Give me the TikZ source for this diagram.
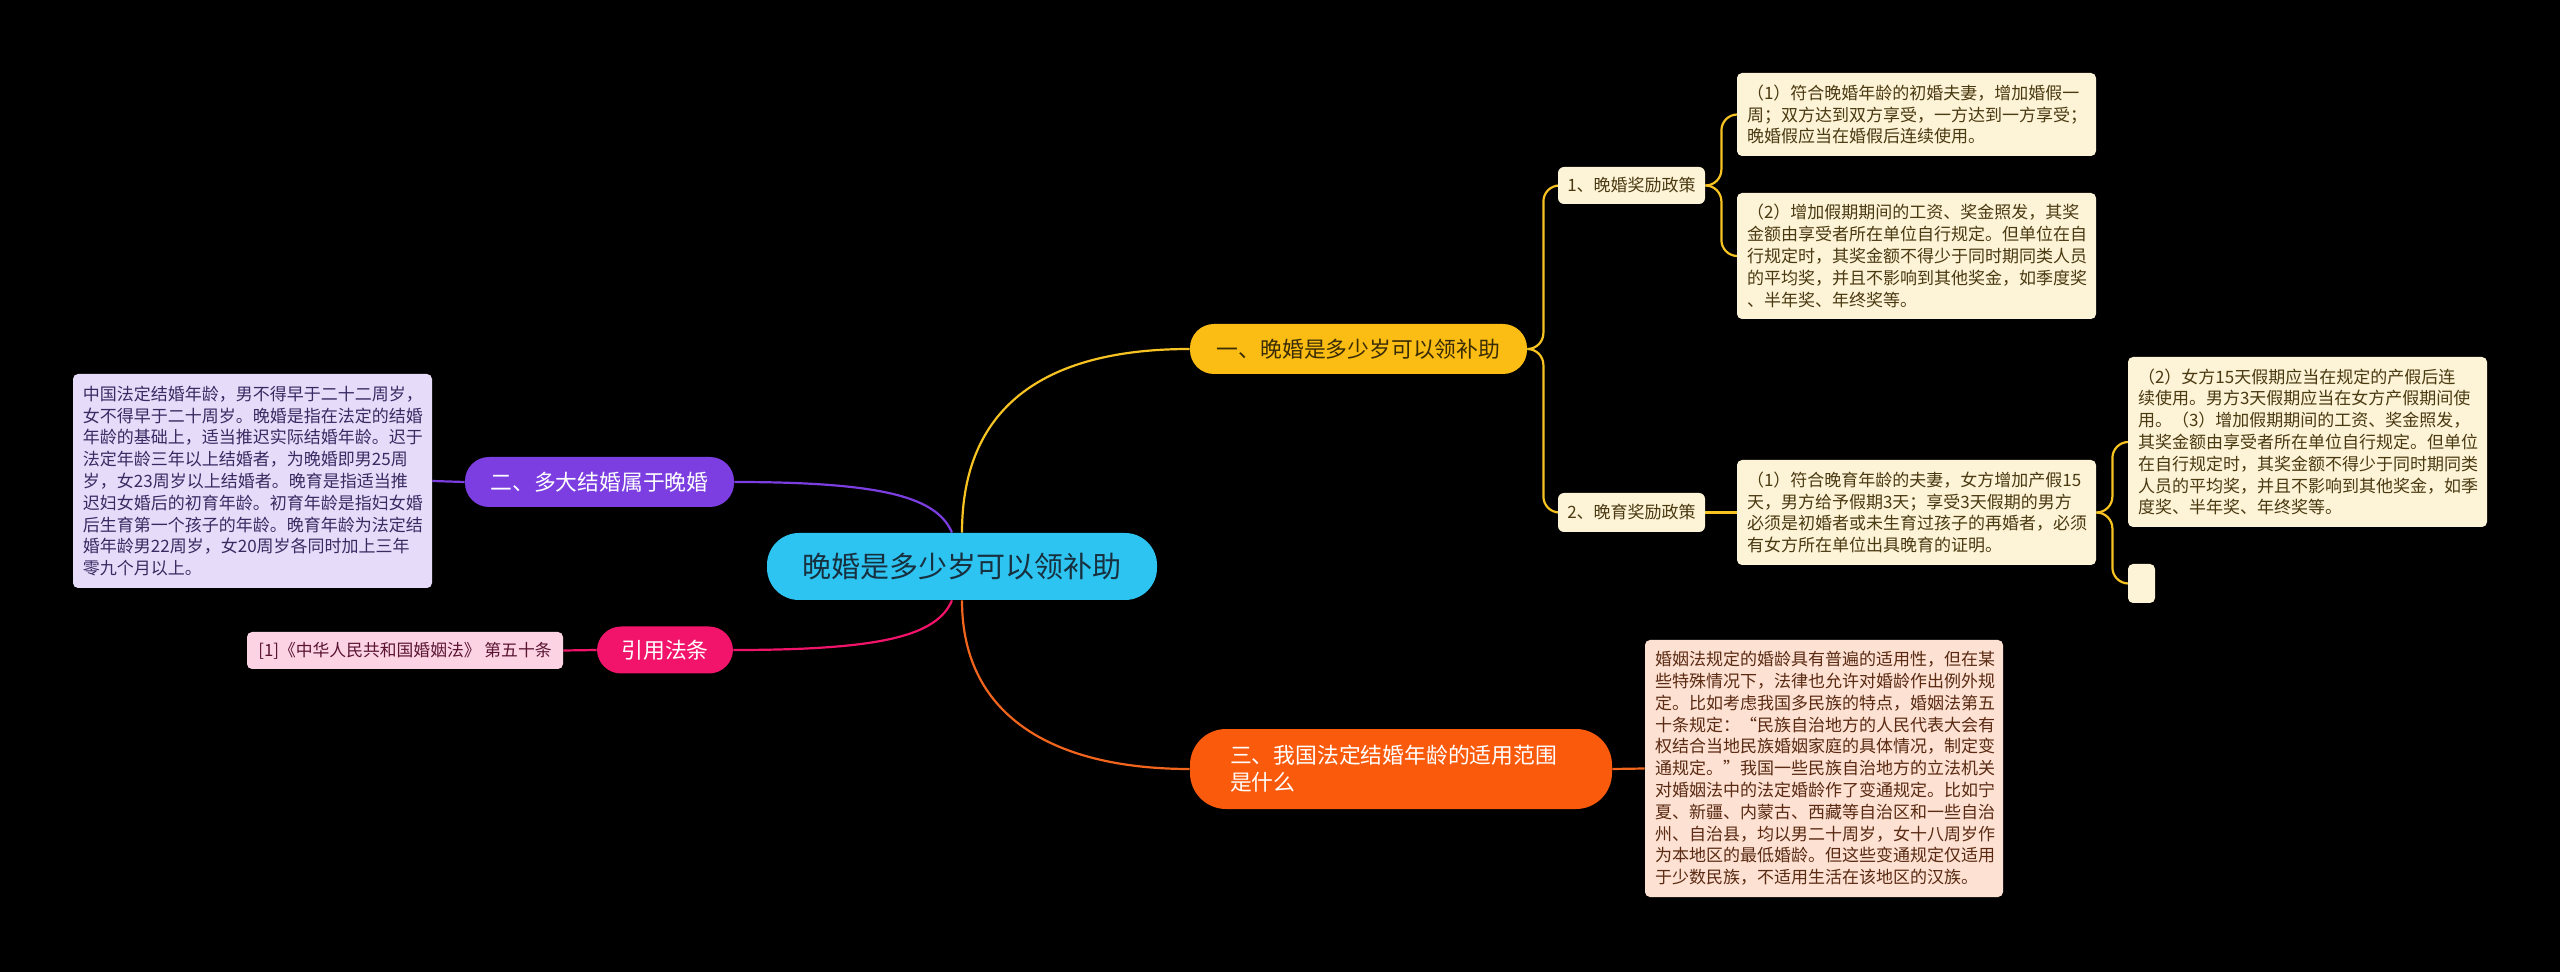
\documentclass[tikz,border=0pt]{standalone}
\usepackage{fontspec}
\setmainfont{Noto Sans CJK SC}
\pgfdeclarelayer{bg}
\pgfsetlayers{bg,main}
\definecolor{cRoot}{HTML}{2EC4F1}
\definecolor{cRootT}{HTML}{17303F}
\definecolor{cY}{HTML}{FBBD13}
\definecolor{cYT}{HTML}{3A2C05}
\definecolor{cYL}{HTML}{FDF3D6}
\definecolor{cYLT}{HTML}{4A3A12}
\definecolor{cYLine}{HTML}{F6C322}
\definecolor{cP}{HTML}{7C3EE0}
\definecolor{cPL}{HTML}{E6DCFA}
\definecolor{cPLT}{HTML}{3A2A62}
\definecolor{cK}{HTML}{F2136B}
\definecolor{cKL}{HTML}{FCD3E2}
\definecolor{cKLT}{HTML}{5A1432}
\definecolor{cO}{HTML}{FA5A0C}
\definecolor{cOL}{HTML}{FDE1D3}
\definecolor{cOLT}{HTML}{5A2A12}
\definecolor{cOLine}{HTML}{F2651C}
\tikzset{
  rootbox/.style={fill=cRoot, text=cRootT, rounded corners=16pt, inner sep=0pt,
    font=\fontsize{14.5pt}{17pt}\selectfont},
  mainbox/.style={rounded corners=12pt, inner sep=0pt,
    font=\fontsize{10.9pt}{13.5pt}\selectfont},
  subbox/.style={fill=cYL, text=cYLT, rounded corners=3pt, inner sep=0pt,
    font=\fontsize{8.5pt}{10.5pt}\selectfont},
  leafbox/.style={rounded corners=2.5pt, inner sep=0pt, align=left,
    font=\fontsize{8.5pt}{10.9pt}\selectfont},
  conn/.style={line width=1.1pt},
}
\begin{document}
\begin{tikzpicture}[x=0.5pt,y=-0.5pt]
\useasboundingbox (0,0) rectangle (2560,972);
\begin{pgfonlayer}{bg}
\fill[black] (0,0) rectangle (2560,972);
\end{pgfonlayer}

% root
\node[rootbox, minimum width=195pt, minimum height=33.5pt] (root) at (962,566.5) {晚婚是多少岁可以领补助};

% branch 1
\node[mainbox, fill=cY, text=cYT, minimum width=168.5pt, minimum height=25pt] (b1) at (1358.5,349) {一、晚婚是多少岁可以领补助};
\node[subbox, minimum width=73.5pt, minimum height=18.5pt] (s1) at (1631.5,185.5) {1、晚婚奖励政策};
\node[subbox, minimum width=73.5pt, minimum height=19.5pt] (s2) at (1631.5,512.5) {2、晚育奖励政策};
\node[leafbox, fill=cYL, text=cYLT, text width=169.5pt, minimum width=179.5pt, minimum height=41.5pt] (l1) at (1916.5,114.5)
 {（1）符合晚婚年龄的初婚夫妻，增加婚假一\\周；双方达到双方享受，一方达到一方享受；\\晚婚假应当在婚假后连续使用。};
\node[leafbox, fill=cYL, text=cYLT, text width=169.5pt, minimum width=179.5pt, minimum height=63pt] (l2) at (1916.5,256)
 {（2）增加假期期间的工资、奖金照发，其奖\\金额由享受者所在单位自行规定。但单位在自\\行规定时，其奖金额不得少于同时期同类人员\\的平均奖，并且不影响到其他奖金，如季度奖\\、半年奖、年终奖等。};
\node[leafbox, fill=cYL, text=cYLT, text width=169.5pt, minimum width=179.5pt, minimum height=52.5pt] (l3) at (1916.5,512.5)
 {（1）符合晚育年龄的夫妻，女方增加产假15\\天，男方给予假期3天；享受3天假期的男方\\必须是初婚者或未生育过孩子的再婚者，必须\\有女方所在单位出具晚育的证明。};
\node[leafbox, fill=cYL, text=cYLT, text width=169.5pt, minimum width=179.5pt, minimum height=85pt] (l4) at (2307.5,442)
 {（2）女方15天假期应当在规定的产假后连\\续使用。男方3天假期应当在女方产假期间使\\用。（3）增加假期期间的工资、奖金照发，\\其奖金额由享受者所在单位自行规定。但单位\\在自行规定时，其奖金额不得少于同时期同类\\人员的平均奖，并且不影响到其他奖金，如季\\度奖、半年奖、年终奖等。};
\node[leafbox, fill=cYL, minimum width=13.5pt, minimum height=19.5pt] (l5) at (2141.5,583.5) {};

% branch 2
\node[mainbox, fill=cP, text=white, minimum width=134.5pt, minimum height=25pt] (b2) at (599.5,482) {二、多大结婚属于晚婚};
\node[leafbox, fill=cPL, text=cPLT, text width=169.5pt, minimum width=179.5pt, minimum height=107pt] (lp) at (252.5,481)
 {中国法定结婚年龄，男不得早于二十二周岁，\\女不得早于二十周岁。晚婚是指在法定的结婚\\年龄的基础上，适当推迟实际结婚年龄。迟于\\法定年龄三年以上结婚者，为晚婚即男25周\\岁，女23周岁以上结婚者。晚育是指适当推\\迟妇女婚后的初育年龄。初育年龄是指妇女婚\\后生育第一个孩子的年龄。晚育年龄为法定结\\婚年龄男22周岁，女20周岁各同时加上三年\\零九个月以上。};

% branch 4 (citation)
\node[mainbox, fill=cK, text=white, minimum width=68pt, minimum height=23.5pt] (b4) at (665,650) {引用法条};
\node[leafbox, fill=cKL, text=cKLT, align=center, font=\fontsize{8.4pt}{10pt}\selectfont, minimum width=158pt, minimum height=18.5pt] (lr) at (405,650.5)
 {[1]《中华人民共和国婚姻法》 第五十条};

% branch 3
\node[mainbox, fill=cO, text=white, align=left, text width=171pt, rounded corners=18pt, minimum width=211pt, minimum height=40pt] (b3) at (1401,769)
 {三、我国法定结婚年龄的适用范围\\是什么};
\node[leafbox, fill=cOL, text=cOLT, text width=169pt, minimum width=179pt, minimum height=128.5pt] (lo) at (1824,768.5)
 {婚姻法规定的婚龄具有普遍的适用性，但在某\\些特殊情况下，法律也允许对婚龄作出例外规\\定。比如考虑我国多民族的特点，婚姻法第五\\十条规定：“民族自治地方的人民代表大会有\\权结合当地民族婚姻家庭的具体情况，制定变\\通规定。”我国一些民族自治地方的立法机关\\对婚姻法中的法定婚龄作了变通规定。比如宁\\夏、新疆、内蒙古、西藏等自治区和一些自治\\州、自治县，均以男二十周岁，女十八周岁作\\为本地区的最低婚龄。但这些变通规定仅适用\\于少数民族，不适用生活在该地区的汉族。};

% connectors
\begin{pgfonlayer}{bg}
\draw[conn, cYLine] (root.north) .. controls +(0,-130) and +(-140,0) .. (b1.west);
\draw[conn, cOLine] (root.south) .. controls +(0,120) and +(-130,0) .. (b3.west);
\draw[conn, cP] (b2.east) .. controls +(150,0) and +(-15,-35) .. ([xshift=-5pt]root.north);
\draw[conn, cK] (b4.east) .. controls +(150,0) and +(-15,35) .. ([xshift=-5pt]root.south);
\draw[conn, cP] (b2.west) -- (lp.east);
\draw[conn, cK] (b4.west) -- (lr.east);
\draw[conn, cOLine] (b3.east) -- (lo.west);
\draw[conn, cYLine, rounded corners=8pt] (b1.east) -- ++(16,0) |- (s1.west);
\draw[conn, cYLine, rounded corners=8pt] (b1.east) -- ++(16,0) |- (s2.west);
\draw[conn, cYLine, rounded corners=8pt] (s1.east) -- ++(16,0) |- (l1.west);
\draw[conn, cYLine, rounded corners=8pt] (s1.east) -- ++(16,0) |- (l2.west);
\draw[conn, cYLine] (s2.east) -- (l3.west);
\draw[conn, cYLine, rounded corners=8pt] (l3.east) -- ++(16,0) |- (l4.west);
\draw[conn, cYLine, rounded corners=8pt] (l3.east) -- ++(16,0) |- (l5.west);
\end{pgfonlayer}
\end{tikzpicture}
\end{document}
